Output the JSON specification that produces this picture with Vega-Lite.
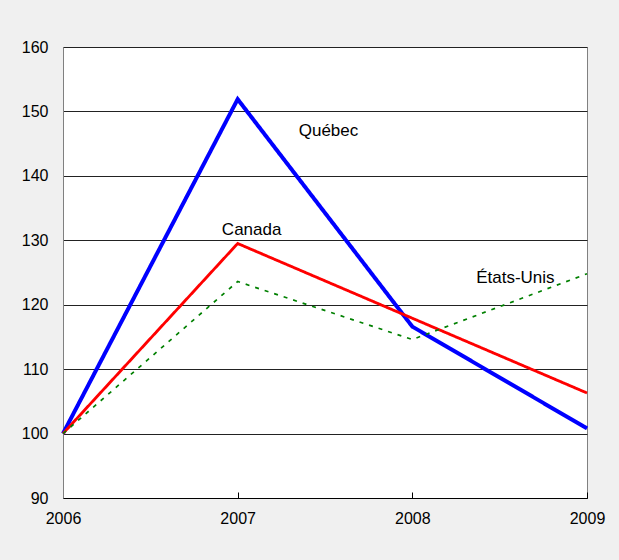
{
  "$schema": "https://vega.github.io/schema/vega-lite/v6.json",
  "width": 524,
  "height": 451,
  "autosize": {"type": "none"},
  "padding": {"left": 63, "top": 47, "right": 32, "bottom": 62},
  "background": "#f0f0f0",
  "config": {
    "font": "Liberation Sans",
    "view": {"stroke": "#808080", "strokeWidth": 1, "fill": "#ffffff"}
  },
  "datasets": {
    "series": [
      {"annee": 2006, "region": "Québec", "indice": 100},
      {"annee": 2007, "region": "Québec", "indice": 151.9},
      {"annee": 2008, "region": "Québec", "indice": 116.6},
      {"annee": 2009, "region": "Québec", "indice": 100.8},
      {"annee": 2006, "region": "Canada", "indice": 100},
      {"annee": 2007, "region": "Canada", "indice": 129.5},
      {"annee": 2008, "region": "Canada", "indice": 117.9},
      {"annee": 2009, "region": "Canada", "indice": 106.3},
      {"annee": 2006, "region": "États-Unis", "indice": 100},
      {"annee": 2007, "region": "États-Unis", "indice": 123.6},
      {"annee": 2008, "region": "États-Unis", "indice": 114.6},
      {"annee": 2009, "region": "États-Unis", "indice": 124.8}
    ],
    "labels": [
      {"annee": 2007.52, "indice": 147.0, "texte": "Québec"},
      {"annee": 2007.08, "indice": 131.6, "texte": "Canada"},
      {"annee": 2008.59, "indice": 124.2, "texte": "États-Unis"}
    ]
  },
  "layer": [
    {
      "data": {"name": "series"},
      "mark": {"type": "line", "strokeCap": "butt", "strokeJoin": "miter"},
      "encoding": {
        "x": {
          "field": "annee", "type": "quantitative",
          "scale": {"domain": [2006, 2009], "nice": false, "zero": false},
          "axis": {
            "title": null, "values": [2006, 2007, 2008, 2009], "format": "d",
            "grid": false, "domainColor": "#000000", "domainWidth": 1,
            "tickColor": "#000000", "tickSize": -6, "labelPadding": 18,
            "labelFontSize": 16, "labelColor": "#000000", "labelFont": "Liberation Sans",
            "labelFlush": false, "labelOverlap": false
          }
        },
        "y": {
          "field": "indice", "type": "quantitative",
          "scale": {"domain": [90, 160], "nice": false, "zero": false},
          "axis": {
            "title": null, "values": [90, 100, 110, 120, 130, 140, 150, 160],
            "grid": true, "gridColor": "#222222", "gridWidth": 1,
            "domainColor": "#808080", "ticks": false, "labelPadding": 15,
            "labelFontSize": 16, "labelColor": "#000000", "labelFont": "Liberation Sans"
          }
        },
        "color": {
          "field": "region", "type": "nominal",
          "scale": {"domain": ["Québec", "Canada", "États-Unis"], "range": ["#0000ff", "#ff0000", "#008000"]},
          "legend": null
        },
        "strokeWidth": {
          "field": "region", "type": "nominal",
          "scale": {"domain": ["Québec", "Canada", "États-Unis"], "range": [4, 1.7, 2]},
          "legend": null
        },
        "strokeDash": {
          "field": "region", "type": "nominal",
          "scale": {"domain": ["Québec", "Canada", "États-Unis"], "range": [[1, 0], [1, 0], [4, 6]]},
          "legend": null
        }
      }
    },
    {
      "data": {"name": "labels"},
      "mark": {"type": "text", "fontSize": 17, "font": "Liberation Sans", "color": "#000000", "align": "center", "baseline": "middle"},
      "encoding": {
        "x": {"field": "annee", "type": "quantitative"},
        "y": {"field": "indice", "type": "quantitative"},
        "text": {"field": "texte"}
      }
    }
  ]
}
